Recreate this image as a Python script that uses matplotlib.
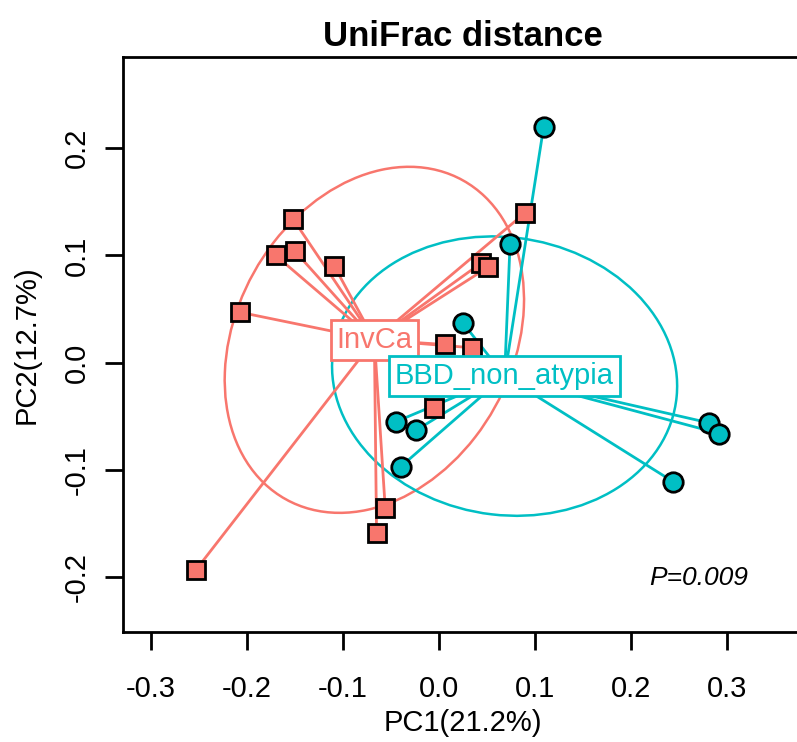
import matplotlib.pyplot as plt
import numpy as np
from matplotlib.patches import Ellipse

plt.rcParams['font.family'] = ['Liberation Sans', 'DejaVu Sans']

title = "UniFrac distance"
x_label = "PC1(21.2%)"
y_label = "PC2(12.7%)"
p_label = "P=0.009"

group_names = ["InvCa", "BBD_non_atypia"]
group_colors = ["#F8766D", "#00BFC4"]
group_markers = ["s", "o"]

# PCoA coordinates (some BBD points sit under their label)
invca_pc1 = [-0.253, -0.207, -0.170, -0.152, -0.150, -0.109, 0.090, 0.044,
             0.051, 0.006, 0.034, -0.005, -0.056, -0.065]
invca_pc2 = [-0.193, 0.047, 0.100, 0.134, 0.104, 0.090, 0.140, 0.093,
             0.089, 0.017, 0.014, -0.042, -0.135, -0.159]

bbd_pc1 = [0.109, 0.074, 0.025, -0.045, -0.024, -0.040, 0.281, 0.292, 0.244,
           -0.030, -0.012, 0.002, 0.012]
bbd_pc2 = [0.220, 0.111, 0.037, -0.055, -0.063, -0.097, -0.056, -0.066, -0.111,
           -0.020, -0.021, -0.020, -0.021]

x_ticks = [-0.3, -0.2, -0.1, 0.0, 0.1, 0.2, 0.3]
y_ticks = [-0.2, -0.1, 0.0, 0.1, 0.2]


def draw_class(ax, xs, ys, color, marker, ms):
    xs = np.asarray(xs)
    ys = np.asarray(ys)
    cx, cy = xs.mean(), ys.mean()
    # ellipse like ade4 s.class (cellipse = 1.5, population covariance)
    cov = np.cov(xs, ys, bias=True)
    vals, vecs = np.linalg.eigh(cov)
    angle = np.degrees(np.arctan2(vecs[1, 1], vecs[0, 1]))
    ell = Ellipse((cx, cy), 2 * 1.5 * np.sqrt(vals[1]), 2 * 1.5 * np.sqrt(vals[0]),
                  angle=angle, fill=False, ec=color, lw=1.8, zorder=2)
    ax.add_patch(ell)
    # star lines to the centroid
    for x, y in zip(xs, ys):
        ax.plot([cx, x], [cy, y], color=color, lw=2.0, zorder=3)
    ax.plot(xs, ys, ls='none', marker=marker, ms=ms, mfc=color, mec='black',
            mew=2.0, zorder=4)
    return cx, cy


fig = plt.figure(figsize=(7.97, 7.42), dpi=100)
ax = fig.add_axes([123 / 797, 1 - 632 / 742, 680 / 797, 575 / 742])

c1 = draw_class(ax, invca_pc1, invca_pc2, group_colors[0], group_markers[0], 13)
c2 = draw_class(ax, bbd_pc1, bbd_pc2, group_colors[1], group_markers[1], 14)

for (cx, cy), name, col in zip([c1, c2], group_names, group_colors):
    ax.text(cx, cy, name, color=col, ha='center', va='center', fontsize=21, zorder=6,
            bbox=dict(boxstyle='square,pad=0.2', fc='white', ec=col, lw=2))

ax.text(0.270, -0.201, p_label, style='italic', fontsize=19, ha='center', va='center')

ax.set_xlim(-0.329, 0.379)
ax.set_ylim(-0.251, 0.285)
ax.set_xticks(x_ticks)
ax.set_yticks(y_ticks)
ax.set_xticklabels([f"{v:.1f}" for v in x_ticks])
ax.set_yticklabels([f"{v:.1f}" for v in y_ticks], rotation=90, va='center')
ax.tick_params(direction='out', length=13, width=2, labelsize=21)
ax.tick_params(axis='x', pad=18)
ax.tick_params(axis='y', pad=10)
for sp in ax.spines.values():
    sp.set_linewidth(2)

ax.set_xlabel(x_label, fontsize=21, labelpad=4)
ax.set_ylabel(y_label, fontsize=21, labelpad=16)
ax.set_title(title, fontsize=25, fontweight='bold', pad=8)

fig.savefig("out.png", dpi=100)
